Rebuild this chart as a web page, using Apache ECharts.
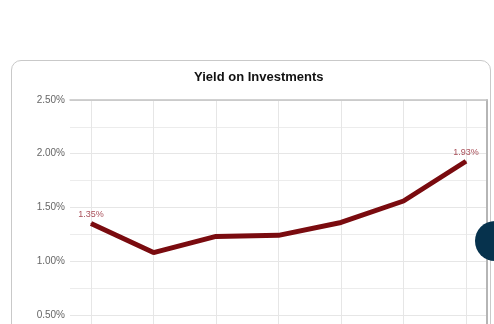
<!DOCTYPE html>
<html>
<head>
<meta charset="utf-8">
<script src="https://cdn.jsdelivr.net/npm/echarts@6/dist/echarts.min.js"></script>
<style>
  html, body { margin: 0; padding: 0; width: 494px; height: 324px; overflow: hidden; background: #fff; }
  #card { position: absolute; left: 11px; top: 60px; width: 478px; height: 320px; border: 1px solid #c9c9c9; border-radius: 10px; background: #fff; }
  #chart { position: absolute; left: 0; top: 0; width: 494px; height: 324px; }
  #dot { position: absolute; left: 475px; top: 221px; width: 40px; height: 40px; border-radius: 50%; background: #06324d; }
</style>
</head>
<body>
<div id="card"></div>
<div id="chart"></div>
<div id="dot"></div>
<script>
const titleText = 'Yield on Investments';
const categories = [0, 1, 2, 3, 4, 5, 6];
const yieldValues = [1.35, 1.08, 1.23, 1.24, 1.36, 1.56, 1.93];
const labeledPoints = [0, 6];

const seriesData = yieldValues.map((v, i) => {
  const item = { value: [categories[i], v] };
  if (labeledPoints.indexOf(i) >= 0) {
    item.label = { show: true };
  }
  return item;
});

const chart = echarts.init(document.getElementById('chart'), null, { renderer: 'canvas' });
chart.setOption({
  animation: false,
  backgroundColor: 'transparent',
  title: {
    text: titleText,
    left: 189,
    top: 66,
    textStyle: { fontFamily: 'Liberation Sans', fontWeight: 'bold', fontSize: 13, color: '#111' }
  },
  grid: { left: 70, right: 7, top: 100, bottom: -44.6, containLabel: false, outerBoundsMode: 'none' },
  xAxis: [{
    type: 'value',
    min: -0.336,
    max: 6.336,
    axisLine: { show: false, onZero: false },
    axisTick: { show: false, customValues: categories },
    axisLabel: { show: false, customValues: categories },
    splitLine: { show: true, lineStyle: { color: '#e6e6e6', width: 1 } }
  }, {
    type: 'value',
    position: 'top',
    min: 0, max: 1,
    axisLine: { show: true, onZero: false, lineStyle: { color: '#c2c2c2', width: 1.5 } },
    axisTick: { show: false },
    axisLabel: { show: false },
    splitLine: { show: false }
  }],
  yAxis: [{
    type: 'value',
    min: 0,
    max: 2.5,
    interval: 0.5,
    axisLine: { show: false, onZero: false },
    axisTick: { show: false },
    axisLabel: {
      formatter: v => v.toFixed(2) + '%',
      fontFamily: 'Liberation Sans',
      fontSize: 10,
      color: '#666',
      margin: 5
    },
    splitLine: { show: true, lineStyle: { color: '#e6e6e6', width: 1 } },
    minorTick: { show: false, splitNumber: 2 },
    minorSplitLine: { show: true, lineStyle: { color: '#ececec', width: 1 } }
  }, {
    type: 'value',
    position: 'right',
    min: 0, max: 1,
    axisLine: { show: true, onZero: false, lineStyle: { color: '#b5b5b5', width: 2 } },
    axisTick: { show: false },
    axisLabel: { show: false },
    splitLine: { show: false }
  }],
  series: [{
    type: 'line',
    xAxisIndex: 0,
    yAxisIndex: 0,
    data: seriesData,
    symbol: 'circle',
    symbolSize: 1,
    showSymbol: true,
    lineStyle: { color: '#7a0b0f', width: 5 },
    itemStyle: { color: '#7a0b0f' },
    label: {
      show: false,
      position: 'top',
      distance: 4,
      formatter: p => p.value[1].toFixed(2) + '%',
      fontFamily: 'Liberation Sans',
      fontSize: 9,
      color: '#a9505a'
    }
  }]
});
</script>
</body>
</html>
